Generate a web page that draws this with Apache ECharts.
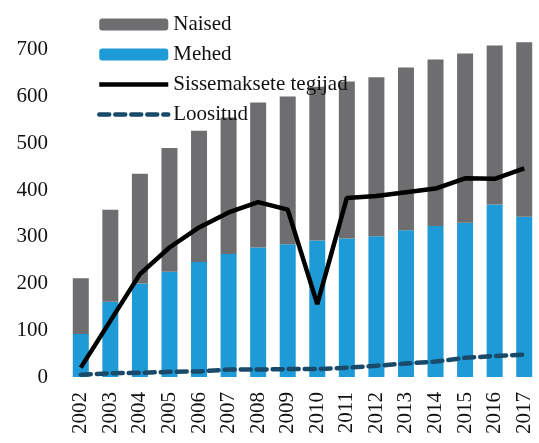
<!DOCTYPE html>
<html>
<head>
<meta charset="utf-8">
<script src="https://cdn.jsdelivr.net/npm/echarts@6/dist/echarts.min.js"></script>
<style>
  html, body { margin: 0; padding: 0; background: #fff; }
  #chart { width: 539px; height: 443px; }
</style>
</head>
<body>
<div id="chart"></div>
<script>
// andmed
const years = ["2002","2003","2004","2005","2006","2007","2008","2009","2010","2011","2012","2013","2014","2015","2016","2017"];
const mehed = [92, 161, 200, 225, 246, 263, 277, 284, 292, 296, 301, 314, 323, 330, 369, 343];
const naised = [119, 197, 235, 265, 281, 292, 310, 316, 329, 336, 340, 348, 356, 362, 340, 373];
const tegijad = [20, 120, 220, 277, 320, 352, 374, 358, 156, 383, 387, 395, 403, 425, 424, 446];
const loositud = [5, 8, 9, 11, 12, 16, 16, 17, 17, 20, 24, 29, 33, 41, 45, 48];

const font = "Liberation Serif";
const chart = echarts.init(document.getElementById("chart"));
chart.setOption({
  animation: false,
  textStyle: { fontFamily: font, color: "#111" },
  legend: {
    orient: "vertical",
    left: 92,
    top: 9,
    itemWidth: 69,
    itemHeight: 12,
    itemGap: 9,
    textStyle: { fontFamily: font, fontSize: 21, color: "#111" },
    data: [
      { name: "Naised" },
      { name: "Mehed" },
      { name: "Sissemaksete tegijad", lineStyle: { width: 4.5, color: "#000" } },
      { name: "Loositud", lineStyle: { width: 4.5, color: "#1a4a6a", type: [10, 6], cap: "round" } }
    ]
  },
  grid: { left: 66, right: 0, top: 3, bottom: 66 },
  xAxis: {
    type: "category",
    data: years,
    axisLine: { show: false },
    axisTick: { show: false },
    axisLabel: { rotate: 90, margin: 15, fontSize: 21, color: "#111", fontFamily: font, interval: 0 }
  },
  yAxis: {
    type: "value",
    min: 0,
    max: 800,
    interval: 100,
    splitLine: { show: false },
    axisLine: { show: false },
    axisTick: { show: false },
    axisLabel: {
      margin: 18,
      fontSize: 21,
      color: "#111",
      fontFamily: font,
      formatter: (v) => (v === 800 ? "" : v)
    }
  },
  series: [
    {
      name: "Mehed",
      type: "bar",
      stack: "kokku",
      barWidth: 16,
      data: mehed,
      itemStyle: { color: "#1e9ad6" }
    },
    {
      name: "Naised",
      type: "bar",
      stack: "kokku",
      barWidth: 16,
      data: naised,
      itemStyle: { color: "#6e6e70" }
    },
    {
      name: "Sissemaksete tegijad",
      type: "line",
      data: tegijad,
      symbol: "none",
      lineStyle: { color: "#000", width: 4.5 },
      itemStyle: { color: "#000", opacity: 0 }
    },
    {
      name: "Loositud",
      type: "line",
      data: loositud,
      symbol: "none",
      lineStyle: { color: "#1a4a6a", width: 4.5, type: [10, 6], cap: "round" },
      itemStyle: { color: "#1a4a6a", opacity: 0 }
    }
  ]
});
</script>
</body>
</html>
